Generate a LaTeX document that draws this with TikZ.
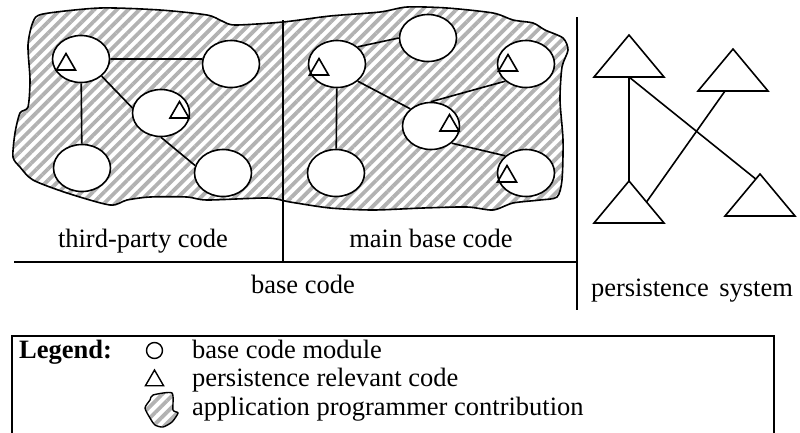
\documentclass[tikz,border=0pt]{standalone}
\usepackage{fontspec}
\setmainfont{Liberation Serif}
\usetikzlibrary{shapes.geometric, patterns.meta, calc}

\begin{document}
\begin{tikzpicture}[x=1pt, y=-1pt, line width=1.6pt,
		every node/.style={font=\fontsize{26.5}{30}\selectfont},
		module/.style={draw, ellipse, fill=white, inner sep=0pt, minimum width=57pt, minimum height=47pt},
		prel/.style={draw, regular polygon, regular polygon sides=3, inner sep=0pt, minimum size=22pt},
		contrib/.style={pattern={Lines[angle=45, distance=8pt, line width=3.8pt]}, pattern color=gray!60},
		bigtri/.pic={\draw (-35,0) coordinate (-left) -- (0,-42) coordinate (-apex) -- (35,0) coordinate (-right) -- cycle;
			\coordinate (-base) at (0,0);}]
				\useasboundingbox (0,0) rectangle (800,432);

				\draw[contrib] plot[smooth cycle, tension=0.45] coordinates {
					(33,22) (43,14) (100,8) (160,10) (207,15) (222,21) (235,25) (283,22)
					(330,16) (380,12) (407,7) (447,8) (493,13) (513,20) (533,23) (545,30)
					(563,38) (568,50) (562,67) (560,100) (563,140) (562,180) (557,197)
					(540,200) (513,203) (493,210) (467,207) (423,208) (373,210) (330,208)
					(290,202) (267,198) (207,200) (187,197) (150,197) (127,200) (110,205)
					(67,193) (33,180) (20,167) (13,157) (15,133) (20,113) (28,107) (30,80) (28,45)};

				\draw (283,20) -- (283,262);
				\draw (14,262) -- (577,262);
				\draw (577,17) -- (577,310);

				\node[module] (tp1) at (81,59) {};
				\node[module] (tp2) at (231,64) {};
				\node[module] (tp3) at (161,113) {};
				\node[module] (tp4) at (82,168) {};
				\node[module] (tp5) at (223,173) {};

				\node[module] (mb1) at (337,64) {};
				\node[module] (mb2) at (428,38) {};
				\node[module] (mb3) at (526,64) {};
				\node[module] (mb4) at (431,126) {};
				\node[module] (mb5) at (336,173) {};
				\node[module] (mb6) at (526,173) {};

				\draw (tp1.east) -- (tp2.170);
				\draw (tp1) -- (tp4);
				\draw (tp1.south east) -- (tp3.170);
				\draw (tp3.south) -- (tp5.165);

				\draw (mb1.north east) -- (mb2.west);
				\draw (mb1) -- (mb5);
				\draw (mb1.south east) -- (mb4.north west);
				\draw (mb4.north) -- (mb3.south west);
				\draw (mb4.south east) -- (mb6.north west);

				\node[prel] (pr1) at (66,64.5) {};
				\node[prel] (pr2) at (179.5,112.5) {};
				\node[prel] (pr3) at (319,69.5) {};
				\node[prel] (pr4) at (508,65.5) {};
				\node[prel] (pr5) at (449.5,125.5) {};
				\node[prel] (pr6) at (507,176.5) {};

				\pic (ps1) at (629,77) {bigtri};
				\pic (ps2) at (733,91) {bigtri};
				\pic (ps3) at (629,223) {bigtri};
				\pic (ps4) at (760,216) {bigtri};

				\draw (ps1-base) -- (ps3-apex);
				\draw (ps1-base) -- ($(ps4-apex)!0.12!(ps4-left)$);
				\draw ([xshift=-8pt]ps2-base) -- ($(ps3-apex)!0.5!(ps3-right)$);

				\node[anchor=base] (tpcode) at (143,247) {third-party code};
				\node[anchor=base] (mbcode) at (431,247) {main base code};
				\node[anchor=base] (bcode) at (303,293) {base code};
				\node[anchor=base] (psys) at (692,296) {persistence\hspace{0.15em} system};

				\draw (12,440) -- (12,336) -- (774,336) -- (774,440);
				\node[anchor=base west] (lgd) at (15,358) {\textbf{Legend:}};
				\node[draw, circle, inner sep=0pt, minimum size=16pt, line width=1.4pt] (lcirc) at (154.5,350.5) {};
				\node[anchor=base west] (lmod) at (188,358) {base code module};
				\node[prel, minimum size=21pt, line width=1.4pt] (ltri) at (154.5,380.5) {};
				\node[anchor=base west] (lrel) at (188,386) {persistence relevant code};
				\draw[contrib, line width=1.4pt] plot[smooth cycle, tension=0.4] coordinates {
					(153,395) (172,393) (173,410) (178,413) (172,422) (163,427) (155,425) (150,418) (145,408) (150,400)};
				\node[anchor=base west] (lapp) at (188,415) {application programmer contribution};
			\end{tikzpicture}
\end{document}
